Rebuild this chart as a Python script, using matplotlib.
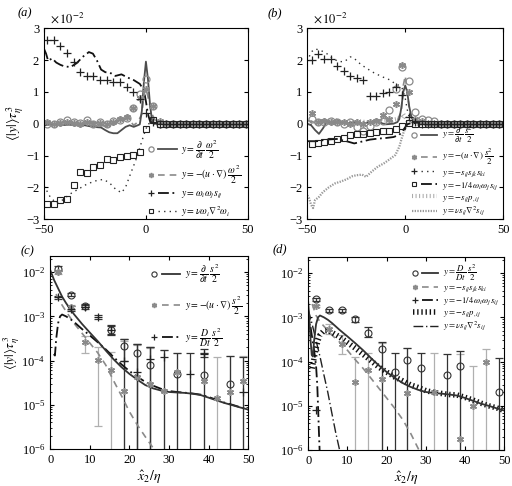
import numpy as np
import matplotlib
matplotlib.use("Agg")
import matplotlib.pyplot as plt
from matplotlib.lines import Line2D
from matplotlib.legend_handler import HandlerBase
from matplotlib.ticker import LogLocator, NullFormatter

plt.rcParams['font.family'] = 'serif'
plt.rcParams['font.serif'] = ['Liberation Serif', 'DejaVu Serif']
plt.rcParams['mathtext.fontset'] = 'stix'
plt.rcParams['font.size'] = 9

nan = np.nan
GREY = '#8a8a8a'
DARK = '#4d4d4d'

# ---------------- panel (a): enstrophy budget (units of 1e-2) ----------------
xa_pts = [-48.5, -45.25, -42.0, -38.75, -35.5, -32.25, -29.0, -25.75, -22.5, -19.25,
          -16.0, -12.75, -9.5, -6.25, -3.0, 0.25, 3.5, 6.75, 10.0, 13.25, 16.5,
          19.75, 23.0, 26.25, 29.5, 32.75, 36.0, 39.25, 42.5, 45.75, 49.0]
a_circ = [0.0, -0.02, 0.05, 0.12, 0.05, 0.03, 0.12, 0.0, 0.05, 0.0, 0.08, 0.12, 0.17,
          0.5, 0.92, 1.4, 0.55, 0, 0, 0, 0, 0, 0, 0, 0, 0, 0, 0, 0, 0, 0]
a_star = [0.05, 0.0, 0.02, 0.05, 0.02, 0.0, 0.05, 0.0, 0.02, 0.0, 0.05, 0.15, 0.2,
          0.5, 0.8, 1.1, 0.55, 0.1, 0, 0, 0, 0, 0, 0, 0, 0, 0, 0, 0, 0, 0]
a_plus = [2.62, 2.62, 2.45, 2.22, 1.95, 1.62, 1.5, 1.5, 1.38, 1.38, 1.3, 1.3, 1.15,
          1.0, 0.78, 0.33, 0.05, 0, 0, 0, 0, 0, 0, 0, 0, 0, 0, 0, 0, 0, 0]
a_sq = [-2.51, -2.53, -2.40, -2.37, -1.93, -1.52, -1.54, -1.35, -1.31, -1.11, -1.15,
        -1.05, -1.02, -0.98, -0.89, -0.16, 0.12, 0, 0, 0, 0, 0, 0, 0, 0, 0, 0, 0, 0, 0, 0]

a_dt_x = [-50, -46, -42, -38, -34, -30, -26, -22, -20, -18, -16, -14, -12, -10, -8, -6,
          -4, -3, -2, -1, 0, 1, 2, 3, 4, 6, 50]
a_dt_y = [-0.05, -0.02, -0.05, -0.03, -0.05, -0.05, -0.1, -0.12, -0.2, -0.27, -0.3, -0.3,
          -0.2, -0.1, -0.05, -0.1, -0.05, -0.02, 0.4, 1.3, 1.95, 1.4, 0.6, 0.1, 0.0, 0.0, 0.0]
a_adv_x = [-50, -46, -42, -38, -34, -30, -26, -22, -19, -16, -13, -10, -8, -6, -4, -2, -1,
           0, 1, 2, 3, 5, 50]
a_adv_y = [0.05, -0.02, 0.05, 0.0, 0.02, 0.0, 0.05, -0.05, -0.1, 0.0, 0.05, 0.17, 0.1,
           -0.05, 0.05, 0.3, 0.9, 1.1, 0.85, 0.55, 0.3, 0.05, 0.0]
a_str_x = [-50, -49, -48, -46, -44, -42, -40, -37, -34, -31, -28, -26, -24, -22, -20, -17,
           -15, -12, -9, -6, -3, -1, 0, 1, 2, 4, 50]
a_str_y = [2.35, 2.2, 1.98, 2.05, 1.92, 1.85, 1.8, 1.78, 1.9, 2.1, 2.25, 2.2, 1.98, 1.7,
           1.62, 1.58, 1.5, 1.55, 1.45, 1.37, 1.25, 1.05, 0.7, 0.3, 0.08, 0.0, 0.0]
a_vis_x = [-50, -47, -44, -41, -37, -33, -29, -25, -21, -18, -15, -12, -10, -8, -5, -3,
           -1, 1, 3, 50]
a_vis_y = [-1.95, -2.3, -2.5, -2.4, -2.2, -2.05, -1.9, -1.8, -1.75, -1.85, -2.05, -2.17,
           -2.0, -1.65, -1.15, -0.75, -0.35, 0.0, 0.0, 0.0]

# ---------------- panel (b): strain budget (units of 1e-2) ----------------
xb_pts = [-47.8, -44.5, -41.2, -37.9, -34.6, -31.3, -28.0, -24.7, -21.4, -18.1, -14.8,
          -11.5, -8.2, -4.9, -1.6, 1.7, 5.0, 8.3, 11.6, 14.9, 18.2, 21.5, 24.8, 28.1,
          31.4, 34.7, 38.0, 41.3, 44.6, 47.9]
b_circ = [0.15, 0.05, 0.05, 0.1, 0.05, 0.0, 0.05, -0.1, -0.22, -0.08, 0.05, 0.1, 0.42,
          1.1, 1.78, 1.35, 0.37, 0.16, 0.13, 0.08, 0, 0, 0, 0, 0, 0, 0, 0, 0, 0]
b_star = [0.35, 0.05, 0.08, 0.05, 0.05, 0.05, 0.0, 0.05, 0.0, 0.05, 0.1, 0.26, 0.15,
          0.63, 1.85, 1.0, 0.16, 0.1, 0, 0, 0, 0, 0, 0, 0, 0, 0, 0, 0, 0]
b_plus = [2.0, 2.18, 2.02, 2.02, 1.81, 1.65, 1.49, 1.42, 1.37, 0.86, 0.86, 0.95, 1.0,
          1.15, 0.9, 0.22, 0.05, 0, 0, 0, 0, 0, 0, 0, 0, 0, 0, 0, 0, 0]
b_sq = [-0.64, -0.62, -0.57, -0.53, -0.48, -0.45, -0.37, -0.33, -0.32, -0.29, -0.27,
        -0.24, -0.22, -0.17, -0.08, 0.03, 0, 0, 0, 0, 0, 0, 0, 0, 0, 0, 0, 0, 0, 0]

b_dt_x = [-50, -48, -46, -44, -42, -40, -37, -34, -30, -26, -22, -18, -14, -10, -6, -4,
          -3, -2, -1, 0, 1, 2, 3, 4, 6, 8, 50]
b_dt_y = [0.0, -0.05, -0.2, -0.32, -0.15, 0.05, 0.05, 0.08, 0.0, 0.05, 0.0, 0.05, 0.05,
          -0.02, 0.0, 0.05, 0.15, 0.5, 1.0, 1.2, 1.0, 0.55, 0.25, 0.1, 0.03, 0.0, 0.0]
b_adv_x = [-50, -46, -42, -38, -34, -30, -26, -22, -18, -14, -10, -7, -4, -2, -1, 0, 1, 2,
           3, 5, 8, 50]
b_adv_y = [0.1, 0.05, 0.1, 0.05, 0.05, 0.0, 0.05, 0.0, 0.05, 0.1, 0.15, 0.05, 0.1, 0.4,
           1.2, 1.5, 1.0, 0.5, 0.2, 0.05, 0.0, 0.0]
b_sss_x = [-50, -48, -46, -43, -40, -37, -34, -31, -28, -26, -23, -20, -16, -12, -8, -5,
           -3, -1.5, 0, 1, 2, 3, 5, 50]
b_sss_y = [1.95, 2.25, 2.35, 2.3, 2.2, 2.05, 1.95, 1.95, 2.1, 2.05, 1.88, 1.75, 1.6,
           1.48, 1.38, 1.25, 1.2, 1.1, 0.8, 0.45, 0.2, 0.08, 0.02, 0.0]
b_wws_x = [-50, -45, -40, -35, -30, -26, -22, -18, -14, -10, -6, -3, -1, 1, 3, 50]
b_wws_y = [-0.55, -0.55, -0.5, -0.48, -0.55, -0.62, -0.56, -0.5, -0.47, -0.45, -0.42,
           -0.35, -0.2, -0.02, 0.02, 0.0]
b_prs_x = [-50, -45, -40, -36, -32, -28, -24, -20, -16, -12, -8, -4, -2, -1, 0, 1, 2, 4,
           6, 10, 50]
b_prs_y = [0.05, 0.05, 0.1, 0.12, 0.05, 0.05, 0.08, 0.05, 0.05, 0.08, 0.1, 0.15, 0.2,
           0.3, 0.2, 0.1, 0.05, 0.02, 0.0, 0.0, 0.0]
b_vis_x = [-50, -49, -48, -47, -46, -44, -42, -39, -36, -33, -30, -27, -25, -22, -20,
           -17, -14, -11, -8, -5, -4, -3, -2, -1, 0, 1, 2, 4, 50]
b_vis_y = [-2.25, -2.35, -2.55, -2.65, -2.4, -2.3, -2.15, -2.0, -1.88, -1.82, -1.75,
           -1.65, -1.62, -1.6, -1.67, -1.5, -1.35, -1.25, -1.12, -0.98, -0.85, -0.72,
           -0.5, -0.3, -0.15, -0.02, 0.03, 0.03, 0.0]

# ---------------- panels (c), (d): log scale, x2/eta >= 0 ----------------
xc_pts = [2.0, 5.3, 8.7, 12.0, 15.3, 18.7, 22.0, 25.3, 28.7, 32.0, 35.3, 38.7, 42.0,
          45.3, 48.7]
BOT = 1e-9   # error bar reaching below the axis

c_circ = [1.2e-2, 3.1e-3, 1.75e-3, nan, 5e-4, 2.1e-4, 1.45e-4, 8e-5, nan, 5e-5, nan,
          4.7e-5, nan, 3e-5, nan]
c_circ_lo = [1.05e-2, 2.9e-3, 1.6e-3, nan, 4e-4, 1e-4, BOT, BOT, nan, BOT, nan, BOT,
             nan, BOT, nan]
c_circ_hi = [1.35e-2, 3.35e-3, 1.9e-3, nan, 6.2e-4, 3e-4, 2.4e-4, 2e-4, nan, 1.5e-4,
             nan, 1.5e-4, nan, 1.3e-4, nan]
c_star = [1.0e-2, 1.6e-3, 2.6e-4, 1.05e-4, 6.2e-5, 2.1e-5, 4.2e-5, 3e-5, 2.1e-5, 5.5e-5,
          nan, 3.5e-5, 1.45e-5, 2e-5, 3.5e-5]
c_star_lo = [9e-3, 1.4e-3, 1.5e-4, 3.4e-6, BOT, BOT, BOT, BOT, BOT, BOT, nan, BOT, BOT,
             BOT, BOT]
c_star_hi = [1.1e-2, 1.8e-3, 3.6e-4, 2e-4, 1.6e-4, 2.8e-4, 2.3e-4, 1.9e-4, 1.7e-4,
             1.5e-4, nan, 1.5e-4, 1.2e-4, 1.3e-4, 1.3e-4]
c_plus = [2.7e-3, 1.5e-3, 1.6e-3, 9.5e-4, 5e-4, 1e-4, 5.5e-5, 1.1e-4, 1.2e-4, nan,
          5e-5, 1.4e-4, nan, nan, 2e-5]
c_plus_lo = [2.5e-3, 1.3e-3, 1.45e-3, 8.5e-4, 3.8e-4, BOT, BOT, BOT, BOT, nan, BOT,
             1.2e-4, nan, nan, BOT]
c_plus_hi = [2.9e-3, 1.7e-3, 1.8e-3, 1.1e-3, 6.5e-4, 3e-4, 2.4e-4, 2e-4, 1.7e-4, nan,
             1.5e-4, 1.8e-4, nan, nan, 1.2e-4]

c_dt_x = [0, 1, 2, 3, 4, 5, 6, 8, 10, 12, 14, 16, 18, 20, 22, 24, 26, 28, 30, 32, 34,
          36, 38, 40, 42, 44, 46, 48, 50]
c_dt_y = [1.12e-2, 6.6e-3, 4.3e-3, 2.8e-3, 2.0e-3, 1.48e-3, 1.12e-3, 6.8e-4, 4.3e-4,
          2.75e-4, 1.7e-4, 1.07e-4, 7.1e-5, 5.0e-5, 3.7e-5, 2.8e-5, 2.35e-5, 2.1e-5,
          1.95e-5, 1.9e-5, 1.86e-5, 1.78e-5, 1.66e-5, 1.45e-5, 1.26e-5, 1.1e-5, 9.8e-6,
          8.7e-6, 7.8e-6]
c_adv_x = [1.5, 2, 3, 4, 6, 8, 10, 12, 14, 16, 18, 20, 22, 24, 26, 28]
c_adv_y = [3.2e-3, 2.5e-3, 1.8e-3, 1.3e-3, 7e-4, 4.2e-4, 2.5e-4, 1.5e-4, 8e-5, 3.5e-5,
           1.6e-5, 7e-6, 3.5e-6, 1.9e-6, 1.05e-6, 6.3e-7]
# material derivative D/Dt s^2/2 (same curve in c and d)
mat_x = [0, 0.3, 0.6, 0.9, 1.2, 1.5, 2, 2.5, 3, 4, 5, 6, 8, 10, 12, 14, 16, 18, 20, 22,
         24, 26, 28, 30, 32, 34, 36, 38, 40, 42, 44, 46, 48, 50]
mat_y = [2.2e-3, 9e-4, 3e-4, 1.4e-4, 1.3e-4, 3e-4, 7e-4, 1.0e-3, 1.1e-3, 1.0e-3,
         8.8e-4, 7.5e-4, 5.2e-4, 3.7e-4, 2.6e-4, 1.8e-4, 1.2e-4, 8.2e-5, 5.8e-5, 4.3e-5,
         3.3e-5, 2.7e-5, 2.3e-5, 2.05e-5, 1.95e-5, 1.88e-5, 1.8e-5, 1.7e-5, 1.5e-5,
         1.3e-5, 1.12e-5, 1e-5, 8.8e-6, 7.8e-6]
C_MAT_FROM = 0.9   # in (c) the D/Dt curve is only visible from here on

d_circ = [2.6e-3, 1.45e-3, 1.45e-3, 9e-4, 4.5e-4, 1.9e-4, 5.7e-5, 1.1e-4, 7e-5, nan,
          5e-5, 8e-5, nan, nan, 2e-5]
d_circ_lo = [2.4e-3, 1.35e-3, 1.35e-3, 8e-4, 3.5e-4, BOT, BOT, BOT, BOT, nan, BOT, BOT,
             nan, nan, BOT]
d_circ_hi = [2.8e-3, 1.55e-3, 1.55e-3, 1e-3, 6e-4, 2.8e-4, 1.6e-4, 2e-4, 1.6e-4, nan,
             1.5e-4, 1.7e-4, nan, nan, 1.2e-4]
d_star = [1.8e-3, 5.5e-4, 2.5e-4, 3.5e-5, 6.5e-5, 4e-5, nan, 1.9e-5, nan, 2e-5, nan,
          1.8e-6, 1e-5, 1e-4, nan]
d_star_lo = [1.7e-3, 4.2e-4, 1.5e-4, BOT, BOT, BOT, nan, BOT, nan, BOT, nan, BOT, BOT,
             BOT, nan]
d_star_hi = [1.9e-3, 7e-4, 4e-4, 1.3e-4, 1.6e-4, 2.6e-4, nan, 2e-4, nan, 1.6e-4, nan,
             1.5e-4, 8e-5, 1.9e-4, nan]
d_plus = [8e-6, nan, nan, nan, nan, nan, nan, nan, nan, nan, nan, nan, nan, nan, nan]

d_sss_x = [1, 2, 3, 4, 6, 8, 10, 12, 14, 16, 18, 20, 22, 24, 26, 28, 30]
d_sss_y = [2e-3, 1.1e-3, 7.9e-4, 6.3e-4, 4e-4, 2.75e-4, 1.8e-4, 1.1e-4, 7e-5, 4.2e-5,
           2.5e-5, 1.5e-5, 8.9e-6, 5e-6, 2.5e-6, 1.1e-6, 5e-7]
d_wws_x = [0.6, 1.0, 1.5, 2.0, 2.3, 2.5, 2.7, 2.9, 3.1]
d_wws_y = [6e-4, 3.5e-4, 1.8e-4, 8e-5, 3e-5, 1e-5, 3e-6, 1e-6, 4e-7]
d_prs_x = [1.0, 1.5, 2.0, 2.5, 3.0, 4.0, 5.0, 6.0, 8.0, 10, 12, 14, 16, 18, 20, 22, 24,
           26, 28, 30, 32, 34, 36, 38, 40, 42, 44, 46, 48, 50]
d_prs_y = [7e-5, 1.2e-4, 2e-4, 3e-4, 4e-4, 5e-4, 5e-4, 4.6e-4, 3.6e-4, 2.7e-4,
           2e-4, 1.45e-4, 1.05e-4, 7.5e-5, 5.8e-5, 4.5e-5, 3.7e-5, 3e-5, 2.6e-5, 2.2e-5,
           2e-5, 1.9e-5, 1.8e-5, 1.75e-5, 1.55e-5, 1.35e-5, 1.15e-5, 1e-5, 9e-6, 7.8e-6]
d_vis_x = [0, 1, 2, 3, 4, 5, 6, 7, 8, 9]
d_vis_y = [1.5e-3, 7e-4, 3e-4, 1.3e-4, 5e-5, 2e-5, 7e-6, 2.5e-6, 1e-6, 4e-7]

# ---------------- styles ----------------
st_circ = dict(ls='none', marker='o', ms=5, mfc='none', mec=GREY, mew=0.9)
st_circ_k = dict(ls='none', marker='o', ms=5, mfc='none', mec='#333333', mew=0.8)
st_star = dict(ls='none', marker=(6, 2, 0), ms=5, mec=GREY, mfc=GREY, mew=1.1)
st_plus = dict(ls='none', marker='+', ms=5.5, mec='#222222', mew=0.9)
st_sq = dict(ls='none', marker='s', ms=4.3, mfc='none', mec='#222222', mew=0.8)
ln_dt = dict(color=DARK, lw=1.3)
ln_dt_k = dict(color='#333333', lw=1.3)
ln_adv = dict(color=GREY, lw=1.2, ls=(0, (4, 3)))
ln_dd = dict(color='#111111', lw=1.3, ls=(0, (6, 2, 1, 2)))
ln_dot = dict(color='#333333', lw=1.0, ls=(0, (1, 3)))
ln_prs_b = dict(color='#aaaaaa', lw=3.0, ls=(0, (0.25, 0.6)), dash_capstyle='butt')
ln_vis_b = dict(color='#999999', lw=1.6, ls=(0, (0.6, 0.6)))
ln_prs_d = dict(color='#111111', lw=4.0, ls=(0, (0.25, 0.5)), dash_capstyle='butt')
ln_thin_dd = dict(color='#222222', lw=1.0, ls=(0, (7, 2, 1, 2)))


class MarkerThenLine(HandlerBase):
    """legend key drawn as: marker, then a short line sample to its right"""
    def create_artists(self, legend, orig, xdescent, ydescent, width, height,
                       fontsize, trans):
        mk, ln = orig
        y = height / 2 - ydescent
        x0 = -xdescent
        m = Line2D([x0 + 0.12 * width], [y], **mk)
        m.set_markersize(mk.get('ms', 5) * 0.75)
        l = Line2D([x0 + 0.38 * width, x0 + width], [y, y], **ln)
        m.set_transform(trans)
        l.set_transform(trans)
        return [m, l]


class LineOnly(HandlerBase):
    def create_artists(self, legend, orig, xdescent, ydescent, width, height,
                       fontsize, trans):
        y = height / 2 - ydescent
        l = Line2D([-xdescent + 0.05 * width, -xdescent + width], [y, y], **orig.style)
        l.set_transform(trans)
        return [l]


class Key:
    def __init__(self, style):
        self.style = style


def keys(pairs):
    return [Key(p) if isinstance(p, dict) else p for p in pairs]


HMAP = {tuple: MarkerThenLine(), Key: LineOnly()}


def lin_axes(ax):
    ax.set_xlim(-50, 50)
    ax.set_ylim(-3, 3)
    ax.set_xticks([-50, 0, 50])
    ax.set_yticks([-3, -2, -1, 0, 1, 2, 3])
    ax.tick_params(direction='in', top=True, right=True, length=3, labelsize=9)


def log_axes(ax):
    ax.set_yscale('log')
    ax.set_xlim(0, 50)
    ax.set_ylim(1e-6, 2.3e-2)
    ax.set_xticks([0, 10, 20, 30, 40, 50])
    ax.set_yticks([1e-6, 1e-5, 1e-4, 1e-3, 1e-2])
    ax.yaxis.set_minor_locator(LogLocator(base=10, subs=np.arange(2, 10), numticks=20))
    ax.yaxis.set_minor_formatter(NullFormatter())
    ax.tick_params(direction='in', top=True, right=True, length=3, labelsize=9)
    ax.tick_params(which='minor', direction='in', right=True, length=1.5)


def bars(ax, y, lo, hi, color, z=2):
    y = np.array(y, dtype=float)
    lo = np.array(lo, dtype=float)
    hi = np.array(hi, dtype=float)
    yy = np.where(np.isnan(y), (lo * hi) ** 0.5, y)
    ax.errorbar(xc_pts, yy, yerr=[yy - lo, hi - yy], fmt='none', ecolor=color,
                elinewidth=0.9, capsize=3, capthick=0.9, zorder=z)


LEG = dict(frameon=False, handlelength=3.0, handletextpad=0.5, borderaxespad=0.25,
           handler_map=HMAP)

fig = plt.figure(figsize=(5.12, 4.86), dpi=100)
ax_a = fig.add_axes([0.086, 0.549, 0.398, 0.393])
ax_b = fig.add_axes([0.600, 0.549, 0.383, 0.393])
ax_c = fig.add_axes([0.098, 0.076, 0.387, 0.397])
ax_d = fig.add_axes([0.602, 0.074, 0.383, 0.397])

# (a)
ax = ax_a
lin_axes(ax)
ax.plot(a_vis_x, a_vis_y, **ln_dot)
ax.plot(a_str_x, a_str_y, **ln_dd)
ax.plot(a_adv_x, a_adv_y, **ln_adv)
ax.plot(a_dt_x, a_dt_y, **ln_dt)
ax.plot(xa_pts, a_circ, **st_circ)
ax.plot(xa_pts, a_star, **st_star)
ax.plot(xa_pts, a_plus, **st_plus)
ax.plot(xa_pts, a_sq, **st_sq)
ax.set_ylabel(r'$\langle|y|\rangle\tau_\eta^3$', fontsize=10)
ax.yaxis.set_label_coords(-0.09, 0.5)
h = [(st_circ, ln_dt), (st_star, ln_adv), (st_plus, ln_dd), (st_sq, ln_dot)]
lab = [r'$y=\dfrac{\partial}{\partial t}\;\dfrac{\omega^2}{2}$',
       r'$y=-(u\cdot\nabla)\;\dfrac{\omega^2}{2}$',
       r'$y=\omega_i\omega_j s_{ij}$',
       r'$y=\nu\omega_i\nabla^2\omega_i$']
ax.legend(h, lab, loc='lower right', bbox_to_anchor=(1.0, -0.03), fontsize=7,
          labelspacing=0.3, **LEG)

# (b)
ax = ax_b
lin_axes(ax)
ax.plot(b_vis_x, b_vis_y, **ln_vis_b)
ax.plot(b_prs_x, b_prs_y, **ln_prs_b)
ax.plot(b_wws_x, b_wws_y, **ln_dd)
ax.plot(b_sss_x, b_sss_y, **ln_dot)
ax.plot(b_adv_x, b_adv_y, **ln_adv)
ax.plot(b_dt_x, b_dt_y, **ln_dt)
ax.plot(xb_pts, b_circ, **st_circ)
ax.plot(xb_pts, b_star, **st_star)
ax.plot(xb_pts, b_plus, **st_plus)
ax.plot(xb_pts, b_sq, **st_sq)
h = keys([(st_circ, ln_dt), (st_star, ln_adv), (st_plus, ln_dot), (st_sq, ln_dd),
          ln_prs_b, ln_vis_b])
lab = [r'$y=\dfrac{\partial}{\partial t}\;\dfrac{s^2}{2}$',
       r'$y=-(u\cdot\nabla)\;\dfrac{s^2}{2}$',
       r'$y=-s_{ij}s_{jk}s_{ki}$',
       r'$y=-1/4\,\omega_i\omega_j s_{ij}$',
       r'$y=-s_{ij}p_{,ij}$',
       r'$y=\nu s_{ij}\nabla^2 s_{ij}$']
ax.legend(h, lab, loc='lower right', bbox_to_anchor=(1.0, -0.025), fontsize=6.3,
          labelspacing=0.15, **LEG)

# (c)
ax = ax_c
log_axes(ax)
bars(ax, c_star, c_star_lo, c_star_hi, '#b0b0b0')
bars(ax, c_circ, c_circ_lo, c_circ_hi, '#333333')
bars(ax, c_plus, c_plus_lo, c_plus_hi, '#333333')
ax.plot(c_adv_x, c_adv_y, **ln_adv)
sel = np.array(mat_x) >= C_MAT_FROM
ax.plot(np.array(mat_x)[sel], np.array(mat_y)[sel], **ln_dd)
ax.plot(c_dt_x, c_dt_y, **ln_dt_k)
ax.plot(xc_pts, c_circ, **st_circ_k)
ax.plot(xc_pts, c_star, **st_star)
ax.plot(xc_pts, c_plus, **st_plus)
ax.set_ylabel(r'$\langle|y|\rangle\tau_\eta^3$', fontsize=9.5)
ax.yaxis.set_label_coords(-0.14, 0.5)
ax.set_xlabel(r'$\hat{x}_2/\eta$', fontsize=10, labelpad=2)
h = [(st_circ_k, ln_dt_k), (st_star, ln_adv), (st_plus, ln_dd)]
lab = [r'$y=\dfrac{\partial}{\partial t}\;\dfrac{s^2}{2}$',
       r'$y=-(u\cdot\nabla)\;\dfrac{s^2}{2}$',
       r'$y=\dfrac{D}{Dt}\;\dfrac{s^2}{2}$']
ax.legend(h, lab, loc='upper right', fontsize=7, labelspacing=0.9, **LEG)

# (d)
ax = ax_d
log_axes(ax)
bars(ax, d_star, d_star_lo, d_star_hi, '#b0b0b0')
bars(ax, d_circ, d_circ_lo, d_circ_hi, '#333333')
ax.plot(d_sss_x, d_sss_y, **ln_adv)
ax.plot(d_vis_x, d_vis_y, **ln_thin_dd)
ax.plot(d_wws_x, d_wws_y, **ln_dd)
ax.plot(d_prs_x, d_prs_y, **ln_prs_d)
ax.plot(mat_x, mat_y, **ln_dt_k)
ax.plot(xc_pts, d_circ, **st_circ_k)
ax.plot(xc_pts, d_star, **st_star)
ax.plot(xc_pts, d_plus, **st_plus)
ax.set_xlabel(r'$\hat{x}_2/\eta$', fontsize=10, labelpad=2)
h = keys([(st_circ_k, ln_dt_k), (st_star, ln_adv), (st_plus, ln_dd), ln_prs_d,
          ln_thin_dd])
lab = [r'$y=\dfrac{D}{Dt}\;\dfrac{s^2}{2}$',
       r'$y=-s_{ij}s_{jk}s_{ki}$',
       r'$y=-1/4\,\omega_i\omega_j s_{ij}$',
       r'$y=-s_{ij}p_{,ij}$',
       r'$y=\nu s_{ij}\nabla^2 s_{ij}$']
ax.legend(h, lab, loc='upper right', fontsize=6.3, labelspacing=0.12, **LEG)

for ax in (ax_a, ax_b):
    pos = ax.get_position()
    fig.text(pos.x0 + 0.012, pos.y1 + 0.006, r'$\times\,10^{-2}$', fontsize=9,
             va='bottom', ha='left')

fig.text(0.035, 0.972, '(a)', fontsize=9, style='italic', va='center')
fig.text(0.523, 0.972, '(b)', fontsize=9, style='italic', va='center')
fig.text(0.040, 0.482, '(c)', fontsize=9, style='italic', va='center')
fig.text(0.533, 0.488, '(d)', fontsize=9, style='italic', va='center')

fig.savefig('out.png', dpi=100)
